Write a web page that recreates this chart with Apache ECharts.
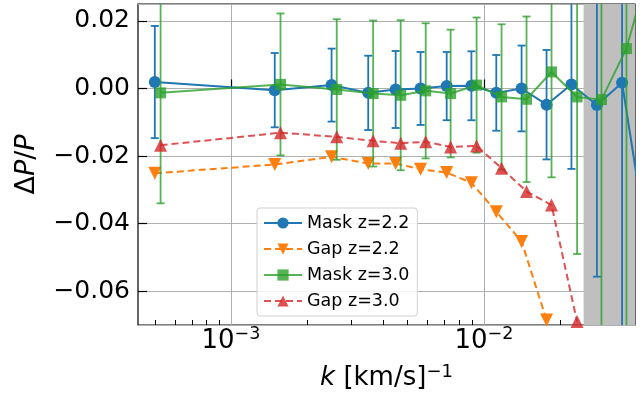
<!DOCTYPE html>
<html>
<head>
<meta charset="utf-8">
<script src="https://cdn.jsdelivr.net/npm/echarts@6/dist/echarts.min.js"></script>
<style>
  html, body { margin: 0; padding: 0; background: #fff; }
  #chart { width: 643px; height: 401px; }
</style>
</head>
<body>
<div id="chart"></div>
<script>
// k values (km/s)^-1, z=3.0 points are plotted slightly shifted right
const kZ22 = [0.0005, 0.00149, 0.0025, 0.00349, 0.00448, 0.00562, 0.00713, 0.00893, 0.0112, 0.0141, 0.0177, 0.0222, 0.0280, 0.0352, 0.0443];
const kZ30 = [0.000527, 0.00157, 0.00262, 0.00365, 0.00469, 0.00589, 0.00739, 0.00936, 0.01175, 0.01475, 0.01852, 0.02337, 0.02918, 0.03664, 0.0466];

const maskZ22 = [0.0019, -0.0005, 0.0010, -0.0013, -0.0003, 0.0000, 0.0007, 0.0008, -0.0013, 0.0000, -0.0048, 0.0012, -0.0049, 0.0017, -0.046];
const maskZ22Err = [0.0166, 0.0110, 0.0108, 0.0110, 0.0114, 0.0108, 0.0101, 0.0102, 0.0112, 0.0127, 0.0162, 0.0250, 0.0508, 0.0900, 0.1000];

const maskZ30 = [-0.0013, 0.0012, -0.0003, -0.0015, -0.0020, -0.0007, -0.0015, 0.0010, -0.0025, -0.0032, 0.0049, -0.0025, -0.0033, 0.0118, 0.040];
const maskZ30Err = [0.0327, 0.0210, 0.0208, 0.0216, 0.0222, 0.0200, 0.0189, 0.0200, 0.0215, 0.0245, 0.0312, 0.0465, 0.0900, 0.0900, 0.1000];

const gapZ22 = [-0.0251, -0.0225, -0.0202, -0.0222, -0.0222, -0.0239, -0.0249, -0.0279, -0.0365, -0.0453, -0.0685];
const gapZ30 = [-0.0168, -0.0131, -0.0143, -0.0155, -0.0162, -0.0158, -0.0173, -0.0170, -0.0236, -0.0305, -0.0345, -0.0690];

const majorTicks = [0.001, 0.01];
const minorTicks = [0.0005, 0.0006, 0.0007, 0.0008, 0.0009,
  0.002, 0.003, 0.004, 0.005, 0.006, 0.007, 0.008, 0.009, 0.02, 0.03];

const xRange = [0.000429, 0.0396];
const yRange = [-0.07, 0.025];
const maskStart = 0.0248;

const names = ['Mask z=2.2', 'Gap z=2.2', 'Mask z=3.0', 'Gap z=3.0'];
const colors = ['#1f77b4', '#ff7f0e', '#2ca02c', '#d62728'];

function pairs(ks, vs) {
  return vs.map((v, i) => [ks[i], v]);
}

function errData(ks, vs, es) {
  return vs.map((v, i) => [ks[i], v - es[i], v + es[i]]);
}

function errorBars(color, opacity) {
  return function(params, api) {
    const cs = params.coordSys;
    const k = api.value(0);
    const top = api.coord([k, api.value(2)]);
    const bot = api.coord([k, api.value(1)]);
    const x = top[0];
    if (x < cs.x - 1 || x > cs.x + cs.width + 1) return;
    const yTop = Math.max(top[1], cs.y);
    const yBot = Math.min(bot[1], cs.y + cs.height);
    const style = { stroke: color, lineWidth: 1.8, opacity: opacity };
    const children = [{ type: 'line', shape: { x1: x, y1: yTop, x2: x, y2: yBot }, style: style }];
    if (top[1] >= cs.y) {
      children.push({ type: 'line', shape: { x1: x - 4, y1: top[1], x2: x + 4, y2: top[1] }, style: style });
    }
    if (bot[1] <= cs.y + cs.height) {
      children.push({ type: 'line', shape: { x1: x - 4, y1: bot[1], x2: x + 4, y2: bot[1] }, style: style });
    }
    return { type: 'group', children: children };
  };
}

const chart = echarts.init(document.getElementById('chart'), null, { renderer: 'canvas' });

const font = 'DejaVu Sans';

const option = {
  backgroundColor: '#fff',
  animation: false,
  grid: {
    left: 138, right: 8, top: 4, bottom: 76,
    outerBoundsMode: 'none', containLabel: false,
    show: true, borderColor: '#000', borderWidth: 1.2, backgroundColor: 'transparent'
  },
  legend: {
    data: names,
    orient: 'vertical',
    left: 257, top: 208,
    padding: [5, 8, 5, 6],
    itemWidth: 38, itemHeight: 14, itemGap: 6,
    backgroundColor: 'rgba(255,255,255,0.85)',
    borderColor: '#d0d0d0', borderWidth: 1, borderRadius: 3,
    textStyle: { fontFamily: font, fontSize: 17.5, color: '#000', lineHeight: 20 }
  },
  xAxis: [{
    type: 'log', logBase: 10,
    min: xRange[0], max: xRange[1],
    name: '{i|k} [km/s]{s|−1}',
    nameLocation: 'middle', nameGap: 38,
    nameTextStyle: {
      fontFamily: font, fontSize: 26, color: '#000',
      rich: {
        i: { fontFamily: font, fontSize: 26, fontStyle: 'italic', color: '#000' },
        s: { fontFamily: font, fontSize: 18, color: '#000', verticalAlign: 'top', padding: [0, 0, 12, 0] }
      }
    },
    axisLine: { show: false },
    axisTick: { show: true, inside: true, length: 9, lineStyle: { color: '#000', width: 1.2 }, customValues: majorTicks },
    axisLabel: {
      customValues: majorTicks,
      margin: 0,
      formatter: function(v) {
        const e = Math.round(Math.log10(v));
        return '{b|10}{s|−' + Math.abs(e) + '}';
      },
      rich: {
        b: { fontFamily: font, fontSize: 26, color: '#000', padding: [3, 0, 0, 0] },
        s: { fontFamily: font, fontSize: 17.5, color: '#000', verticalAlign: 'top' }
      }
    },
    splitLine: { show: true, lineStyle: { color: '#b0b0b0', width: 1 } },
    minorTick: { show: false }
  }, {
    type: 'log', logBase: 10, position: 'bottom',
    min: xRange[0], max: xRange[1],
    axisLine: { show: false },
    axisTick: { show: true, inside: true, length: 5, lineStyle: { color: '#000', width: 1 }, customValues: minorTicks },
    axisLabel: { show: false },
    splitLine: { show: false }
  }],
  yAxis: {
    type: 'value',
    min: yRange[0], max: yRange[1],
    name: 'Δ{i|P}/{i|P}',
    nameLocation: 'middle', nameRotate: 90, nameGap: 98,
    nameTextStyle: {
      fontFamily: font, fontSize: 27, color: '#000',
      rich: { i: { fontFamily: font, fontSize: 27, fontStyle: 'italic', color: '#000' } }
    },
    axisLine: { show: false },
    axisTick: { show: true, inside: true, length: 9, lineStyle: { color: '#000', width: 1.2 } },
    axisLabel: {
      showMinLabel: false, showMaxLabel: false, margin: 8,
      fontFamily: font, fontSize: 25, color: '#000',
      formatter: function(v) {
        return (v < 0 ? '−' : '') + Math.abs(v).toFixed(2);
      }
    },
    splitLine: { show: true, lineStyle: { color: '#b0b0b0', width: 1 } }
  },
  series: [
    {
      name: 'masked', type: 'line', data: [],
      markArea: {
        silent: true,
        itemStyle: { color: '#bfbfbf' },
        data: [[{ xAxis: maskStart }, { xAxis: xRange[1] }]]
      }
    },
    {
      name: 'err-mask22', type: 'custom', renderItem: errorBars(colors[0], 1),
      data: errData(kZ22, maskZ22, maskZ22Err), z: 3, clip: true
    },
    {
      name: names[0], type: 'line', data: pairs(kZ22, maskZ22),
      color: colors[0], symbol: 'circle', symbolSize: 12,
      lineStyle: { width: 2, color: colors[0] }, itemStyle: { color: colors[0] }, z: 4
    },
    {
      name: names[1], type: 'line', data: pairs(kZ22, gapZ22),
      color: colors[1], symbol: 'triangle', symbolRotate: 180, symbolSize: 13,
      lineStyle: { width: 2, type: [7, 4], color: colors[1] }, itemStyle: { color: colors[1] }, z: 4
    },
    {
      name: 'err-mask30', type: 'custom', renderItem: errorBars(colors[2], 0.8),
      data: errData(kZ30, maskZ30, maskZ30Err), z: 5, clip: true
    },
    {
      name: names[2], type: 'line', data: pairs(kZ30, maskZ30),
      color: colors[2], symbol: 'rect', symbolSize: 11,
      lineStyle: { width: 2, color: colors[2], opacity: 0.8 }, itemStyle: { color: colors[2], opacity: 0.8 }, z: 6
    },
    {
      name: names[3], type: 'line', data: pairs(kZ30, gapZ30),
      color: colors[3], symbol: 'triangle', symbolSize: 13,
      lineStyle: { width: 2, type: [7, 4], color: colors[3], opacity: 0.8 }, itemStyle: { color: colors[3], opacity: 0.8 }, z: 6
    }
  ]
};

chart.setOption(option);
</script>
</body>
</html>
